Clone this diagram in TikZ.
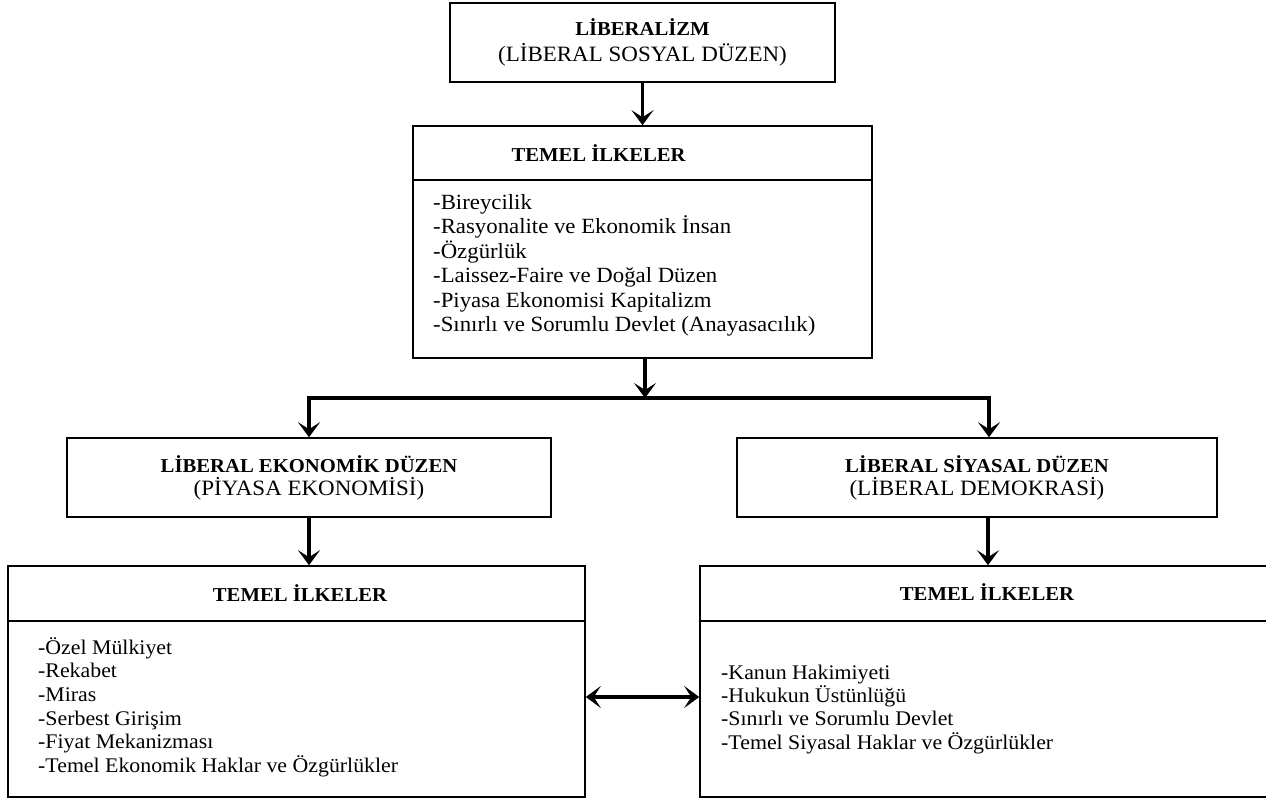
\documentclass[tikz,border=0pt]{standalone}
\usepackage{fontspec}
\setmainfont{Liberation Serif}[FakeStretch=1.05]
\usetikzlibrary{arrows.meta}
\tikzset{
  box/.style={draw, line width=1.6pt, inner sep=0pt, align=center},
  link/.style={line width=3.5pt},
  tip/.tip={Stealth[length=15pt,width=22pt,inset=7pt]},
  arr/.style={-tip},
  hd/.style={font=\fontsize{19.7}{22}\selectfont\bfseries},
  % lists are placed by the baseline of their last line
  lst/.style={anchor=base west, align=left, inner sep=0pt, font=\fontsize{20.8}{23.7}\selectfont}
}
\begin{document}
\begin{tikzpicture}[x=1pt,y=-1pt]
\useasboundingbox (0,0) rectangle (1266,800);
% top box
\node[box, minimum width=385pt, minimum height=79pt, font=\fontsize{21.9}{26}\selectfont] (lib) at (642.5,42.5)
  {{\fontsize{19.7}{26}\selectfont\bfseries LİBERALİZM}\\(LİBERAL SOSYAL DÜZEN)};
% principles
\node[box, minimum width=459pt, minimum height=232pt] (ilk) at (642.5,242) {};
\draw[line width=1.6pt] ([yshift=-55pt]ilk.north west) -- ([yshift=-55pt]ilk.north east);
\node[hd, anchor=west] (ilkT) at (508,153) {TEMEL İLKELER};
\node[lst, font=\fontsize{21.7}{24.5}\selectfont] (ilkL) at (433,331.5) {-Bireycilik\\
  -Rasyonalite ve Ekonomik İnsan\\
  -Özgürlük\\
  -Laissez-Faire ve Doğal Düzen\\
  -Piyasa Ekonomisi Kapitalizm\\
  -Sınırlı ve Sorumlu Devlet (Anayasacılık)};
% the two orders
\node[box, minimum width=484pt, minimum height=79pt, font=\fontsize{21.9}{23}\selectfont] (eko) at (309,477.5)
  {{\fontsize{19.7}{23}\selectfont\bfseries LİBERAL EKONOMİK DÜZEN}\\(PİYASA EKONOMİSİ)};
\node[box, minimum width=480pt, minimum height=79pt, font=\fontsize{21.9}{23}\selectfont] (siy) at (977,477.5)
  {{\fontsize{19.7}{23}\selectfont\bfseries LİBERAL SİYASAL DÜZEN}\\(LİBERAL DEMOKRASİ)};
% lower principles
\node[box, minimum width=577pt, minimum height=231pt] (ekoIlk) at (296.5,681.5) {};
\draw[line width=1.6pt] ([yshift=-56pt]ekoIlk.north west) -- ([yshift=-56pt]ekoIlk.north east);
\node[hd] (ekoT) at (300,593) {TEMEL İLKELER};
\node[lst] (ekoL) at (38,772.5) {-Özel Mülkiyet\\
  -Rekabet\\
  -Miras\\
  -Serbest Girişim\\
  -Fiyat Mekanizması\\
  -Temel Ekonomik Haklar ve Özgürlükler};
\node[box, minimum width=570pt, minimum height=231pt] (siyIlk) at (985,681.5) {};
\draw[line width=1.6pt] ([yshift=-56pt]siyIlk.north west) -- ([yshift=-56pt]siyIlk.north east);
\node[hd] (siyT) at (987,592) {TEMEL İLKELER};
\node[lst, font=\fontsize{20.8}{23.3}\selectfont] (siyL) at (721,749) {-Kanun Hakimiyeti\\
  -Hukukun Üstünlüğü\\
  -Sınırlı ve Sorumlu Devlet\\
  -Temel Siyasal Haklar ve Özgürlükler};
% connectors
\coordinate (j) at (645,398);
\draw[link,arr] (lib.south) -- (lib.south |- ilk.north);
\draw[link,arr] (ilk.south -| j) -- (j);
\draw[link,arr] (j) -| (eko.north);
\draw[link,arr] (j) -| ([xshift=12pt]siy.north);
\draw[link,arr] (eko.south) -- (eko.south |- ekoIlk.north);
\draw[link,arr] ([xshift=11pt]siy.south) -- ([xshift=11pt]siy.south |- siyIlk.north);
\draw[link,tip-tip] ([yshift=-15.5pt]ekoIlk.east) -- ([yshift=-15.5pt]ekoIlk.east -| siyIlk.west);
\end{tikzpicture}
\end{document}
